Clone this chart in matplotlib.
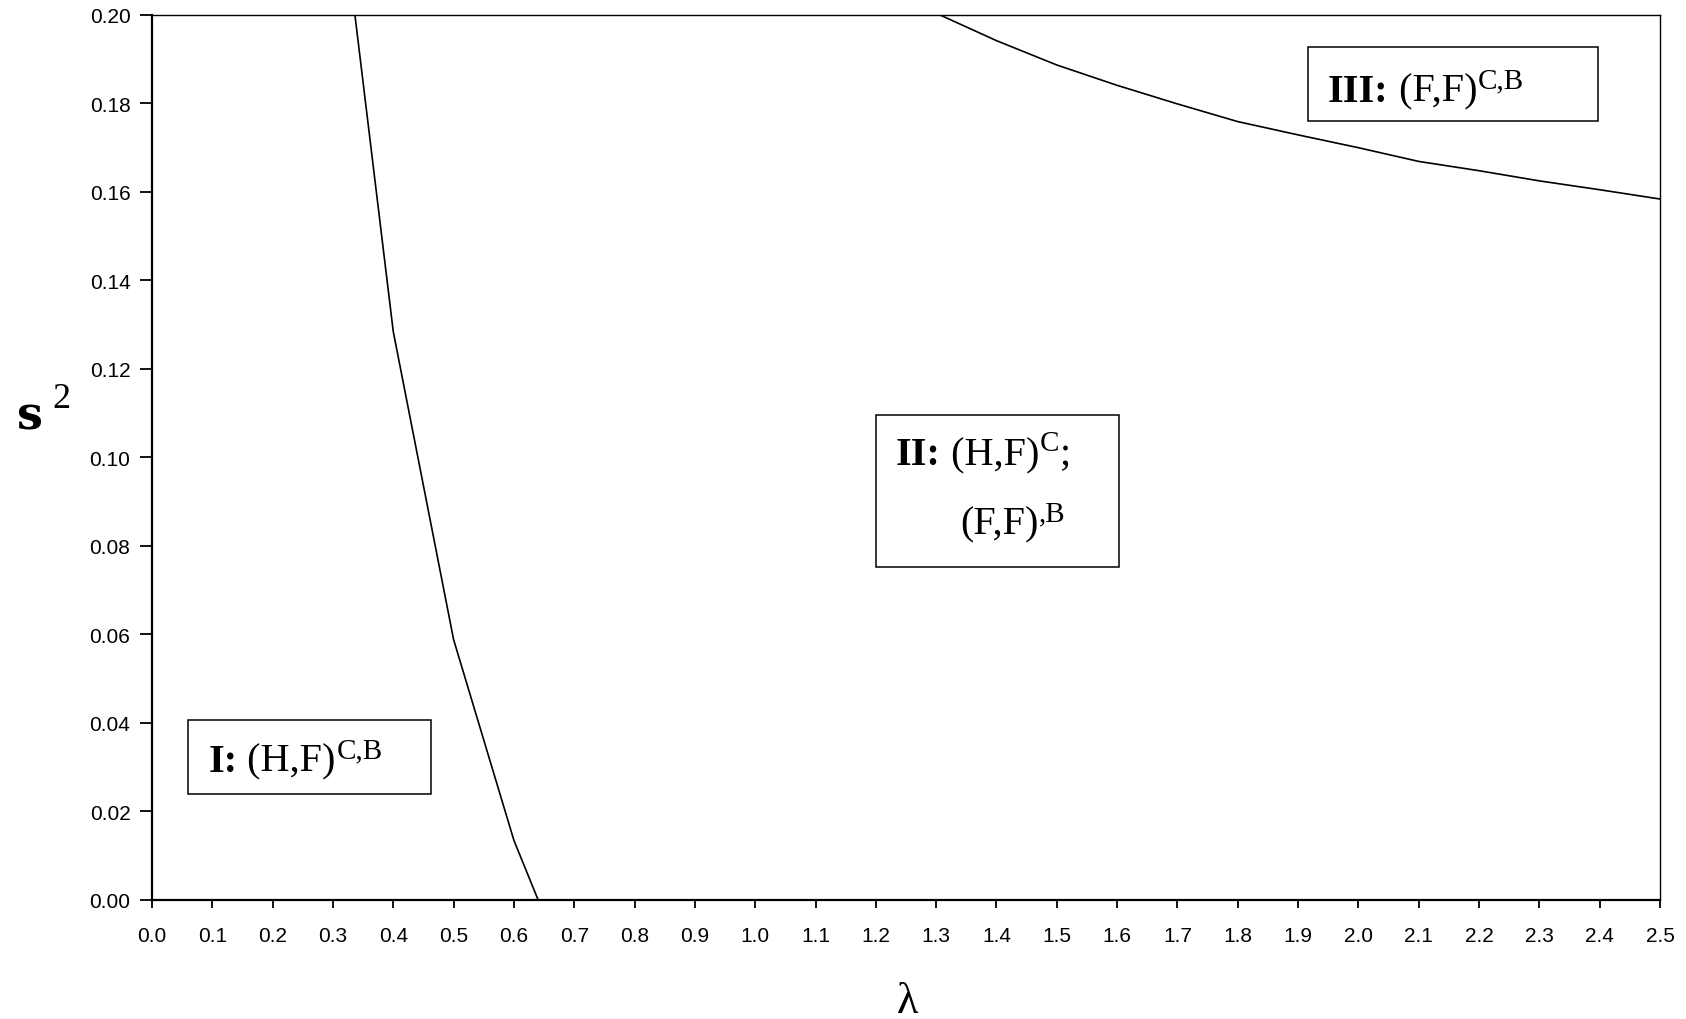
import numpy as np
import matplotlib
matplotlib.use("Agg")
import matplotlib.pyplot as plt
from matplotlib.patches import Rectangle
from matplotlib.transforms import IdentityTransform
from matplotlib.ticker import FormatStrFormatter

# ---- data ----
lam_left = [0.3, 0.4, 0.5, 0.6, 0.64]
s2_left = [0.241, 0.1284, 0.0588, 0.0134, 0.0]

lam_right = [1.3, 1.4, 1.5, 1.6, 1.7, 1.8, 1.9, 2.0, 2.1, 2.2, 2.3, 2.4, 2.5]
s2_right = [0.2004, 0.1942, 0.1887, 0.1841, 0.1799, 0.1759, 0.1729, 0.1700,
            0.1669, 0.1648, 0.1625, 0.1605, 0.1584]

x_ticks = np.round(np.arange(0, 2.51, 0.1), 1)
y_ticks = np.round(np.arange(0, 0.201, 0.02), 2)

# region labels: box corners in data units, then text lines (start x, baseline y, pieces)
regions = [
    dict(box=(0.059, 0.0239, 0.462, 0.0407),
         lines=[(0.0933, 0.02916, [("I:", "bold"), (" (H,F)", "normal"), ("C,B", "sup")])]),
    dict(box=(1.200, 0.0751, 1.6036, 0.1096),
         lines=[(1.2334, 0.0985, [("II:", "bold"), (" (H,F)", "normal"), ("C", "sup"), (";", "normal")]),
                (1.3395, 0.0827, [("(F,F)", "normal"), (",B", "sup")])]),
    dict(box=(1.917, 0.1761, 2.398, 0.1927),
         lines=[(1.9496, 0.1806, [("III:", "bold"), (" (F,F)", "normal"), ("C,B", "sup")])]),
]

W, H = 1686, 1020
fig = plt.figure(figsize=(W / 100, H / 100), dpi=100)
ax = fig.add_axes([152 / W, 1 - 900.7 / H, (1660 - 152) / W, (900.7 - 16) / H])

ax.plot(lam_left, s2_left, color="black", lw=1.2)
ax.plot(lam_right, s2_right, color="black", lw=1.2)

ax.set_xlim(0, 2.5)
ax.set_ylim(0, 0.2)
ax.set_xticks(x_ticks)
ax.set_yticks(y_ticks)
ax.xaxis.set_major_formatter(FormatStrFormatter("%.1f"))
ax.yaxis.set_major_formatter(FormatStrFormatter("%.2f"))
for lab in ax.get_xticklabels() + ax.get_yticklabels():
    lab.set_family("Liberation Sans")
    lab.set_fontsize(15)
ax.tick_params(axis="x", direction="out", length=6, width=1.3, pad=13, top=False)
ax.tick_params(axis="y", direction="out", length=9, width=1.3, pad=6.5, right=False)
ax.spines["left"].set_linewidth(1.6)
ax.spines["bottom"].set_linewidth(1.6)
ax.spines["top"].set_linewidth(1.0)
ax.spines["right"].set_linewidth(1.0)

renderer = fig.canvas.get_renderer()
MAIN = 29
SUP = 21
RISE = 13.5


def rich_line(xd, yd, pieces):
    x, y = ax.transData.transform((xd, yd))
    for s, kind in pieces:
        if kind == "sup":
            t = fig.text(x + 1, y + RISE, s, transform=IdentityTransform(),
                         family="Liberation Serif", fontsize=SUP, va="baseline", ha="left")
        else:
            t = fig.text(x, y, s, transform=IdentityTransform(),
                         family="Liberation Serif", fontsize=MAIN,
                         fontweight=kind, va="baseline", ha="left")
        bb = t.get_window_extent(renderer)
        x = bb.x1


for reg in regions:
    x0, y0, x1, y1 = reg["box"]
    ax.add_patch(Rectangle((x0, y0), x1 - x0, y1 - y0, fill=False,
                           edgecolor="black", lw=1.1, clip_on=False, zorder=5))
    for xd, yd, pieces in reg["lines"]:
        rich_line(xd, yd, pieces)

# axis labels
fig.text(17, H - 430, "s", transform=IdentityTransform(), family="DejaVu Serif",
         fontweight="bold", fontsize=33, va="baseline", ha="left")
fig.text(52, H - 408, "2", transform=IdentityTransform(), family="Liberation Serif",
         fontsize=26, va="baseline", ha="left")
fig.text(908, H - 1013, "λ", transform=IdentityTransform(), family="Liberation Serif",
         fontsize=32, va="baseline", ha="center")

fig.savefig("out.png", dpi=100)
